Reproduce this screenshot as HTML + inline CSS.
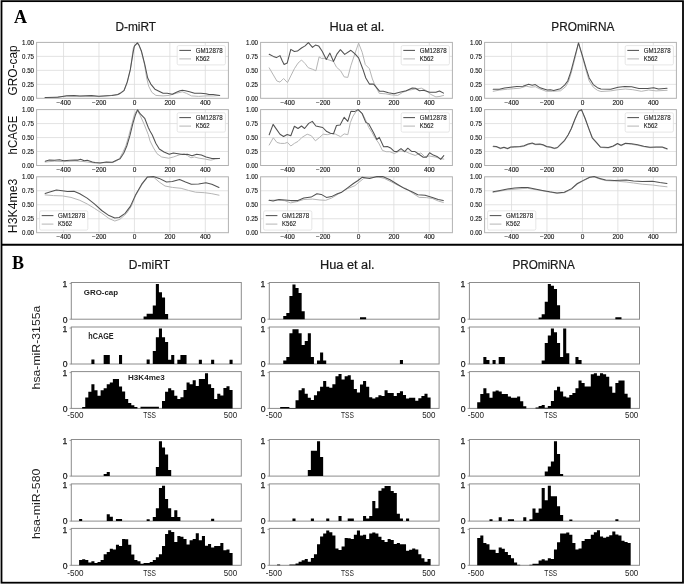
<!DOCTYPE html>
<html><head><meta charset="utf-8"><style>
html,body{margin:0;padding:0;background:#fff;width:685px;height:585px;overflow:hidden}
svg{display:block;filter:blur(0.35px)}
</style></head><body>
<svg width="685" height="585" viewBox="0 0 685 585">
<rect width="685" height="585" fill="#fff"/>
<line x1="36.60" y1="84.33" x2="228.40" y2="84.33" stroke="#dcdcdc" stroke-width="0.8"/>
<line x1="36.60" y1="70.35" x2="228.40" y2="70.35" stroke="#dcdcdc" stroke-width="0.8"/>
<line x1="36.60" y1="56.38" x2="228.40" y2="56.38" stroke="#dcdcdc" stroke-width="0.8"/>
<line x1="63.54" y1="42.40" x2="63.54" y2="98.30" stroke="#dcdcdc" stroke-width="0.8"/>
<line x1="98.98" y1="42.40" x2="98.98" y2="98.30" stroke="#dcdcdc" stroke-width="0.8"/>
<line x1="134.43" y1="42.40" x2="134.43" y2="98.30" stroke="#dcdcdc" stroke-width="0.8"/>
<line x1="169.87" y1="42.40" x2="169.87" y2="98.30" stroke="#dcdcdc" stroke-width="0.8"/>
<line x1="205.32" y1="42.40" x2="205.32" y2="98.30" stroke="#dcdcdc" stroke-width="0.8"/>
<rect x="36.60" y="42.40" width="191.80" height="55.90" fill="none" stroke="#b2b2b2" stroke-width="1"/>
<text x="34.00" y="100.60" font-size="6.8" text-anchor="end" fill="#1a1a1a" textLength="12.0" lengthAdjust="spacingAndGlyphs" font-family='"Liberation Sans", sans-serif' stroke="#1a1a1a" stroke-width="0.15">0.00</text>
<text x="34.00" y="86.62" font-size="6.8" text-anchor="end" fill="#1a1a1a" textLength="12.0" lengthAdjust="spacingAndGlyphs" font-family='"Liberation Sans", sans-serif' stroke="#1a1a1a" stroke-width="0.15">0.25</text>
<text x="34.00" y="72.65" font-size="6.8" text-anchor="end" fill="#1a1a1a" textLength="12.0" lengthAdjust="spacingAndGlyphs" font-family='"Liberation Sans", sans-serif' stroke="#1a1a1a" stroke-width="0.15">0.50</text>
<text x="34.00" y="58.67" font-size="6.8" text-anchor="end" fill="#1a1a1a" textLength="12.0" lengthAdjust="spacingAndGlyphs" font-family='"Liberation Sans", sans-serif' stroke="#1a1a1a" stroke-width="0.15">0.75</text>
<text x="34.00" y="44.70" font-size="6.8" text-anchor="end" fill="#1a1a1a" textLength="12.0" lengthAdjust="spacingAndGlyphs" font-family='"Liberation Sans", sans-serif' stroke="#1a1a1a" stroke-width="0.15">1.00</text>
<text x="63.74" y="104.80" font-size="6.8" text-anchor="middle" fill="#1a1a1a" textLength="14.4" lengthAdjust="spacingAndGlyphs" font-family='"Liberation Sans", sans-serif' stroke="#1a1a1a" stroke-width="0.15">−400</text>
<text x="99.18" y="104.80" font-size="6.8" text-anchor="middle" fill="#1a1a1a" textLength="14.4" lengthAdjust="spacingAndGlyphs" font-family='"Liberation Sans", sans-serif' stroke="#1a1a1a" stroke-width="0.15">−200</text>
<text x="134.43" y="104.80" font-size="6.8" text-anchor="middle" fill="#1a1a1a" textLength="3.6" lengthAdjust="spacingAndGlyphs" font-family='"Liberation Sans", sans-serif' stroke="#1a1a1a" stroke-width="0.15">0</text>
<text x="169.87" y="104.80" font-size="6.8" text-anchor="middle" fill="#1a1a1a" textLength="10.8" lengthAdjust="spacingAndGlyphs" font-family='"Liberation Sans", sans-serif' stroke="#1a1a1a" stroke-width="0.15">200</text>
<text x="205.32" y="104.80" font-size="6.8" text-anchor="middle" fill="#1a1a1a" textLength="10.8" lengthAdjust="spacingAndGlyphs" font-family='"Liberation Sans", sans-serif' stroke="#1a1a1a" stroke-width="0.15">400</text>
<line x1="36.60" y1="151.53" x2="228.40" y2="151.53" stroke="#dcdcdc" stroke-width="0.8"/>
<line x1="36.60" y1="137.55" x2="228.40" y2="137.55" stroke="#dcdcdc" stroke-width="0.8"/>
<line x1="36.60" y1="123.58" x2="228.40" y2="123.58" stroke="#dcdcdc" stroke-width="0.8"/>
<line x1="63.54" y1="109.60" x2="63.54" y2="165.50" stroke="#dcdcdc" stroke-width="0.8"/>
<line x1="98.98" y1="109.60" x2="98.98" y2="165.50" stroke="#dcdcdc" stroke-width="0.8"/>
<line x1="134.43" y1="109.60" x2="134.43" y2="165.50" stroke="#dcdcdc" stroke-width="0.8"/>
<line x1="169.87" y1="109.60" x2="169.87" y2="165.50" stroke="#dcdcdc" stroke-width="0.8"/>
<line x1="205.32" y1="109.60" x2="205.32" y2="165.50" stroke="#dcdcdc" stroke-width="0.8"/>
<rect x="36.60" y="109.60" width="191.80" height="55.90" fill="none" stroke="#b2b2b2" stroke-width="1"/>
<text x="34.00" y="167.80" font-size="6.8" text-anchor="end" fill="#1a1a1a" textLength="12.0" lengthAdjust="spacingAndGlyphs" font-family='"Liberation Sans", sans-serif' stroke="#1a1a1a" stroke-width="0.15">0.00</text>
<text x="34.00" y="153.83" font-size="6.8" text-anchor="end" fill="#1a1a1a" textLength="12.0" lengthAdjust="spacingAndGlyphs" font-family='"Liberation Sans", sans-serif' stroke="#1a1a1a" stroke-width="0.15">0.25</text>
<text x="34.00" y="139.85" font-size="6.8" text-anchor="end" fill="#1a1a1a" textLength="12.0" lengthAdjust="spacingAndGlyphs" font-family='"Liberation Sans", sans-serif' stroke="#1a1a1a" stroke-width="0.15">0.50</text>
<text x="34.00" y="125.88" font-size="6.8" text-anchor="end" fill="#1a1a1a" textLength="12.0" lengthAdjust="spacingAndGlyphs" font-family='"Liberation Sans", sans-serif' stroke="#1a1a1a" stroke-width="0.15">0.75</text>
<text x="34.00" y="111.90" font-size="6.8" text-anchor="end" fill="#1a1a1a" textLength="12.0" lengthAdjust="spacingAndGlyphs" font-family='"Liberation Sans", sans-serif' stroke="#1a1a1a" stroke-width="0.15">1.00</text>
<text x="63.74" y="172.00" font-size="6.8" text-anchor="middle" fill="#1a1a1a" textLength="14.4" lengthAdjust="spacingAndGlyphs" font-family='"Liberation Sans", sans-serif' stroke="#1a1a1a" stroke-width="0.15">−400</text>
<text x="99.18" y="172.00" font-size="6.8" text-anchor="middle" fill="#1a1a1a" textLength="14.4" lengthAdjust="spacingAndGlyphs" font-family='"Liberation Sans", sans-serif' stroke="#1a1a1a" stroke-width="0.15">−200</text>
<text x="134.43" y="172.00" font-size="6.8" text-anchor="middle" fill="#1a1a1a" textLength="3.6" lengthAdjust="spacingAndGlyphs" font-family='"Liberation Sans", sans-serif' stroke="#1a1a1a" stroke-width="0.15">0</text>
<text x="169.87" y="172.00" font-size="6.8" text-anchor="middle" fill="#1a1a1a" textLength="10.8" lengthAdjust="spacingAndGlyphs" font-family='"Liberation Sans", sans-serif' stroke="#1a1a1a" stroke-width="0.15">200</text>
<text x="205.32" y="172.00" font-size="6.8" text-anchor="middle" fill="#1a1a1a" textLength="10.8" lengthAdjust="spacingAndGlyphs" font-family='"Liberation Sans", sans-serif' stroke="#1a1a1a" stroke-width="0.15">400</text>
<line x1="36.60" y1="218.73" x2="228.40" y2="218.73" stroke="#dcdcdc" stroke-width="0.8"/>
<line x1="36.60" y1="204.75" x2="228.40" y2="204.75" stroke="#dcdcdc" stroke-width="0.8"/>
<line x1="36.60" y1="190.78" x2="228.40" y2="190.78" stroke="#dcdcdc" stroke-width="0.8"/>
<line x1="63.54" y1="176.80" x2="63.54" y2="232.70" stroke="#dcdcdc" stroke-width="0.8"/>
<line x1="98.98" y1="176.80" x2="98.98" y2="232.70" stroke="#dcdcdc" stroke-width="0.8"/>
<line x1="134.43" y1="176.80" x2="134.43" y2="232.70" stroke="#dcdcdc" stroke-width="0.8"/>
<line x1="169.87" y1="176.80" x2="169.87" y2="232.70" stroke="#dcdcdc" stroke-width="0.8"/>
<line x1="205.32" y1="176.80" x2="205.32" y2="232.70" stroke="#dcdcdc" stroke-width="0.8"/>
<rect x="36.60" y="176.80" width="191.80" height="55.90" fill="none" stroke="#b2b2b2" stroke-width="1"/>
<text x="34.00" y="235.00" font-size="6.8" text-anchor="end" fill="#1a1a1a" textLength="12.0" lengthAdjust="spacingAndGlyphs" font-family='"Liberation Sans", sans-serif' stroke="#1a1a1a" stroke-width="0.15">0.00</text>
<text x="34.00" y="221.03" font-size="6.8" text-anchor="end" fill="#1a1a1a" textLength="12.0" lengthAdjust="spacingAndGlyphs" font-family='"Liberation Sans", sans-serif' stroke="#1a1a1a" stroke-width="0.15">0.25</text>
<text x="34.00" y="207.05" font-size="6.8" text-anchor="end" fill="#1a1a1a" textLength="12.0" lengthAdjust="spacingAndGlyphs" font-family='"Liberation Sans", sans-serif' stroke="#1a1a1a" stroke-width="0.15">0.50</text>
<text x="34.00" y="193.08" font-size="6.8" text-anchor="end" fill="#1a1a1a" textLength="12.0" lengthAdjust="spacingAndGlyphs" font-family='"Liberation Sans", sans-serif' stroke="#1a1a1a" stroke-width="0.15">0.75</text>
<text x="34.00" y="179.10" font-size="6.8" text-anchor="end" fill="#1a1a1a" textLength="12.0" lengthAdjust="spacingAndGlyphs" font-family='"Liberation Sans", sans-serif' stroke="#1a1a1a" stroke-width="0.15">1.00</text>
<text x="63.74" y="239.20" font-size="6.8" text-anchor="middle" fill="#1a1a1a" textLength="14.4" lengthAdjust="spacingAndGlyphs" font-family='"Liberation Sans", sans-serif' stroke="#1a1a1a" stroke-width="0.15">−400</text>
<text x="99.18" y="239.20" font-size="6.8" text-anchor="middle" fill="#1a1a1a" textLength="14.4" lengthAdjust="spacingAndGlyphs" font-family='"Liberation Sans", sans-serif' stroke="#1a1a1a" stroke-width="0.15">−200</text>
<text x="134.43" y="239.20" font-size="6.8" text-anchor="middle" fill="#1a1a1a" textLength="3.6" lengthAdjust="spacingAndGlyphs" font-family='"Liberation Sans", sans-serif' stroke="#1a1a1a" stroke-width="0.15">0</text>
<text x="169.87" y="239.20" font-size="6.8" text-anchor="middle" fill="#1a1a1a" textLength="10.8" lengthAdjust="spacingAndGlyphs" font-family='"Liberation Sans", sans-serif' stroke="#1a1a1a" stroke-width="0.15">200</text>
<text x="205.32" y="239.20" font-size="6.8" text-anchor="middle" fill="#1a1a1a" textLength="10.8" lengthAdjust="spacingAndGlyphs" font-family='"Liberation Sans", sans-serif' stroke="#1a1a1a" stroke-width="0.15">400</text>
<line x1="260.60" y1="84.33" x2="452.40" y2="84.33" stroke="#dcdcdc" stroke-width="0.8"/>
<line x1="260.60" y1="70.35" x2="452.40" y2="70.35" stroke="#dcdcdc" stroke-width="0.8"/>
<line x1="260.60" y1="56.38" x2="452.40" y2="56.38" stroke="#dcdcdc" stroke-width="0.8"/>
<line x1="287.54" y1="42.40" x2="287.54" y2="98.30" stroke="#dcdcdc" stroke-width="0.8"/>
<line x1="322.98" y1="42.40" x2="322.98" y2="98.30" stroke="#dcdcdc" stroke-width="0.8"/>
<line x1="358.43" y1="42.40" x2="358.43" y2="98.30" stroke="#dcdcdc" stroke-width="0.8"/>
<line x1="393.87" y1="42.40" x2="393.87" y2="98.30" stroke="#dcdcdc" stroke-width="0.8"/>
<line x1="429.32" y1="42.40" x2="429.32" y2="98.30" stroke="#dcdcdc" stroke-width="0.8"/>
<rect x="260.60" y="42.40" width="191.80" height="55.90" fill="none" stroke="#b2b2b2" stroke-width="1"/>
<text x="258.00" y="100.60" font-size="6.8" text-anchor="end" fill="#1a1a1a" textLength="12.0" lengthAdjust="spacingAndGlyphs" font-family='"Liberation Sans", sans-serif' stroke="#1a1a1a" stroke-width="0.15">0.00</text>
<text x="258.00" y="86.62" font-size="6.8" text-anchor="end" fill="#1a1a1a" textLength="12.0" lengthAdjust="spacingAndGlyphs" font-family='"Liberation Sans", sans-serif' stroke="#1a1a1a" stroke-width="0.15">0.25</text>
<text x="258.00" y="72.65" font-size="6.8" text-anchor="end" fill="#1a1a1a" textLength="12.0" lengthAdjust="spacingAndGlyphs" font-family='"Liberation Sans", sans-serif' stroke="#1a1a1a" stroke-width="0.15">0.50</text>
<text x="258.00" y="58.67" font-size="6.8" text-anchor="end" fill="#1a1a1a" textLength="12.0" lengthAdjust="spacingAndGlyphs" font-family='"Liberation Sans", sans-serif' stroke="#1a1a1a" stroke-width="0.15">0.75</text>
<text x="258.00" y="44.70" font-size="6.8" text-anchor="end" fill="#1a1a1a" textLength="12.0" lengthAdjust="spacingAndGlyphs" font-family='"Liberation Sans", sans-serif' stroke="#1a1a1a" stroke-width="0.15">1.00</text>
<text x="287.74" y="104.80" font-size="6.8" text-anchor="middle" fill="#1a1a1a" textLength="14.4" lengthAdjust="spacingAndGlyphs" font-family='"Liberation Sans", sans-serif' stroke="#1a1a1a" stroke-width="0.15">−400</text>
<text x="323.18" y="104.80" font-size="6.8" text-anchor="middle" fill="#1a1a1a" textLength="14.4" lengthAdjust="spacingAndGlyphs" font-family='"Liberation Sans", sans-serif' stroke="#1a1a1a" stroke-width="0.15">−200</text>
<text x="358.43" y="104.80" font-size="6.8" text-anchor="middle" fill="#1a1a1a" textLength="3.6" lengthAdjust="spacingAndGlyphs" font-family='"Liberation Sans", sans-serif' stroke="#1a1a1a" stroke-width="0.15">0</text>
<text x="393.87" y="104.80" font-size="6.8" text-anchor="middle" fill="#1a1a1a" textLength="10.8" lengthAdjust="spacingAndGlyphs" font-family='"Liberation Sans", sans-serif' stroke="#1a1a1a" stroke-width="0.15">200</text>
<text x="429.32" y="104.80" font-size="6.8" text-anchor="middle" fill="#1a1a1a" textLength="10.8" lengthAdjust="spacingAndGlyphs" font-family='"Liberation Sans", sans-serif' stroke="#1a1a1a" stroke-width="0.15">400</text>
<line x1="260.60" y1="151.53" x2="452.40" y2="151.53" stroke="#dcdcdc" stroke-width="0.8"/>
<line x1="260.60" y1="137.55" x2="452.40" y2="137.55" stroke="#dcdcdc" stroke-width="0.8"/>
<line x1="260.60" y1="123.58" x2="452.40" y2="123.58" stroke="#dcdcdc" stroke-width="0.8"/>
<line x1="287.54" y1="109.60" x2="287.54" y2="165.50" stroke="#dcdcdc" stroke-width="0.8"/>
<line x1="322.98" y1="109.60" x2="322.98" y2="165.50" stroke="#dcdcdc" stroke-width="0.8"/>
<line x1="358.43" y1="109.60" x2="358.43" y2="165.50" stroke="#dcdcdc" stroke-width="0.8"/>
<line x1="393.87" y1="109.60" x2="393.87" y2="165.50" stroke="#dcdcdc" stroke-width="0.8"/>
<line x1="429.32" y1="109.60" x2="429.32" y2="165.50" stroke="#dcdcdc" stroke-width="0.8"/>
<rect x="260.60" y="109.60" width="191.80" height="55.90" fill="none" stroke="#b2b2b2" stroke-width="1"/>
<text x="258.00" y="167.80" font-size="6.8" text-anchor="end" fill="#1a1a1a" textLength="12.0" lengthAdjust="spacingAndGlyphs" font-family='"Liberation Sans", sans-serif' stroke="#1a1a1a" stroke-width="0.15">0.00</text>
<text x="258.00" y="153.83" font-size="6.8" text-anchor="end" fill="#1a1a1a" textLength="12.0" lengthAdjust="spacingAndGlyphs" font-family='"Liberation Sans", sans-serif' stroke="#1a1a1a" stroke-width="0.15">0.25</text>
<text x="258.00" y="139.85" font-size="6.8" text-anchor="end" fill="#1a1a1a" textLength="12.0" lengthAdjust="spacingAndGlyphs" font-family='"Liberation Sans", sans-serif' stroke="#1a1a1a" stroke-width="0.15">0.50</text>
<text x="258.00" y="125.88" font-size="6.8" text-anchor="end" fill="#1a1a1a" textLength="12.0" lengthAdjust="spacingAndGlyphs" font-family='"Liberation Sans", sans-serif' stroke="#1a1a1a" stroke-width="0.15">0.75</text>
<text x="258.00" y="111.90" font-size="6.8" text-anchor="end" fill="#1a1a1a" textLength="12.0" lengthAdjust="spacingAndGlyphs" font-family='"Liberation Sans", sans-serif' stroke="#1a1a1a" stroke-width="0.15">1.00</text>
<text x="287.74" y="172.00" font-size="6.8" text-anchor="middle" fill="#1a1a1a" textLength="14.4" lengthAdjust="spacingAndGlyphs" font-family='"Liberation Sans", sans-serif' stroke="#1a1a1a" stroke-width="0.15">−400</text>
<text x="323.18" y="172.00" font-size="6.8" text-anchor="middle" fill="#1a1a1a" textLength="14.4" lengthAdjust="spacingAndGlyphs" font-family='"Liberation Sans", sans-serif' stroke="#1a1a1a" stroke-width="0.15">−200</text>
<text x="358.43" y="172.00" font-size="6.8" text-anchor="middle" fill="#1a1a1a" textLength="3.6" lengthAdjust="spacingAndGlyphs" font-family='"Liberation Sans", sans-serif' stroke="#1a1a1a" stroke-width="0.15">0</text>
<text x="393.87" y="172.00" font-size="6.8" text-anchor="middle" fill="#1a1a1a" textLength="10.8" lengthAdjust="spacingAndGlyphs" font-family='"Liberation Sans", sans-serif' stroke="#1a1a1a" stroke-width="0.15">200</text>
<text x="429.32" y="172.00" font-size="6.8" text-anchor="middle" fill="#1a1a1a" textLength="10.8" lengthAdjust="spacingAndGlyphs" font-family='"Liberation Sans", sans-serif' stroke="#1a1a1a" stroke-width="0.15">400</text>
<line x1="260.60" y1="218.73" x2="452.40" y2="218.73" stroke="#dcdcdc" stroke-width="0.8"/>
<line x1="260.60" y1="204.75" x2="452.40" y2="204.75" stroke="#dcdcdc" stroke-width="0.8"/>
<line x1="260.60" y1="190.78" x2="452.40" y2="190.78" stroke="#dcdcdc" stroke-width="0.8"/>
<line x1="287.54" y1="176.80" x2="287.54" y2="232.70" stroke="#dcdcdc" stroke-width="0.8"/>
<line x1="322.98" y1="176.80" x2="322.98" y2="232.70" stroke="#dcdcdc" stroke-width="0.8"/>
<line x1="358.43" y1="176.80" x2="358.43" y2="232.70" stroke="#dcdcdc" stroke-width="0.8"/>
<line x1="393.87" y1="176.80" x2="393.87" y2="232.70" stroke="#dcdcdc" stroke-width="0.8"/>
<line x1="429.32" y1="176.80" x2="429.32" y2="232.70" stroke="#dcdcdc" stroke-width="0.8"/>
<rect x="260.60" y="176.80" width="191.80" height="55.90" fill="none" stroke="#b2b2b2" stroke-width="1"/>
<text x="258.00" y="235.00" font-size="6.8" text-anchor="end" fill="#1a1a1a" textLength="12.0" lengthAdjust="spacingAndGlyphs" font-family='"Liberation Sans", sans-serif' stroke="#1a1a1a" stroke-width="0.15">0.00</text>
<text x="258.00" y="221.03" font-size="6.8" text-anchor="end" fill="#1a1a1a" textLength="12.0" lengthAdjust="spacingAndGlyphs" font-family='"Liberation Sans", sans-serif' stroke="#1a1a1a" stroke-width="0.15">0.25</text>
<text x="258.00" y="207.05" font-size="6.8" text-anchor="end" fill="#1a1a1a" textLength="12.0" lengthAdjust="spacingAndGlyphs" font-family='"Liberation Sans", sans-serif' stroke="#1a1a1a" stroke-width="0.15">0.50</text>
<text x="258.00" y="193.08" font-size="6.8" text-anchor="end" fill="#1a1a1a" textLength="12.0" lengthAdjust="spacingAndGlyphs" font-family='"Liberation Sans", sans-serif' stroke="#1a1a1a" stroke-width="0.15">0.75</text>
<text x="258.00" y="179.10" font-size="6.8" text-anchor="end" fill="#1a1a1a" textLength="12.0" lengthAdjust="spacingAndGlyphs" font-family='"Liberation Sans", sans-serif' stroke="#1a1a1a" stroke-width="0.15">1.00</text>
<text x="287.74" y="239.20" font-size="6.8" text-anchor="middle" fill="#1a1a1a" textLength="14.4" lengthAdjust="spacingAndGlyphs" font-family='"Liberation Sans", sans-serif' stroke="#1a1a1a" stroke-width="0.15">−400</text>
<text x="323.18" y="239.20" font-size="6.8" text-anchor="middle" fill="#1a1a1a" textLength="14.4" lengthAdjust="spacingAndGlyphs" font-family='"Liberation Sans", sans-serif' stroke="#1a1a1a" stroke-width="0.15">−200</text>
<text x="358.43" y="239.20" font-size="6.8" text-anchor="middle" fill="#1a1a1a" textLength="3.6" lengthAdjust="spacingAndGlyphs" font-family='"Liberation Sans", sans-serif' stroke="#1a1a1a" stroke-width="0.15">0</text>
<text x="393.87" y="239.20" font-size="6.8" text-anchor="middle" fill="#1a1a1a" textLength="10.8" lengthAdjust="spacingAndGlyphs" font-family='"Liberation Sans", sans-serif' stroke="#1a1a1a" stroke-width="0.15">200</text>
<text x="429.32" y="239.20" font-size="6.8" text-anchor="middle" fill="#1a1a1a" textLength="10.8" lengthAdjust="spacingAndGlyphs" font-family='"Liberation Sans", sans-serif' stroke="#1a1a1a" stroke-width="0.15">400</text>
<line x1="484.60" y1="84.33" x2="676.40" y2="84.33" stroke="#dcdcdc" stroke-width="0.8"/>
<line x1="484.60" y1="70.35" x2="676.40" y2="70.35" stroke="#dcdcdc" stroke-width="0.8"/>
<line x1="484.60" y1="56.38" x2="676.40" y2="56.38" stroke="#dcdcdc" stroke-width="0.8"/>
<line x1="511.54" y1="42.40" x2="511.54" y2="98.30" stroke="#dcdcdc" stroke-width="0.8"/>
<line x1="546.98" y1="42.40" x2="546.98" y2="98.30" stroke="#dcdcdc" stroke-width="0.8"/>
<line x1="582.43" y1="42.40" x2="582.43" y2="98.30" stroke="#dcdcdc" stroke-width="0.8"/>
<line x1="617.87" y1="42.40" x2="617.87" y2="98.30" stroke="#dcdcdc" stroke-width="0.8"/>
<line x1="653.32" y1="42.40" x2="653.32" y2="98.30" stroke="#dcdcdc" stroke-width="0.8"/>
<rect x="484.60" y="42.40" width="191.80" height="55.90" fill="none" stroke="#b2b2b2" stroke-width="1"/>
<text x="482.00" y="100.60" font-size="6.8" text-anchor="end" fill="#1a1a1a" textLength="12.0" lengthAdjust="spacingAndGlyphs" font-family='"Liberation Sans", sans-serif' stroke="#1a1a1a" stroke-width="0.15">0.00</text>
<text x="482.00" y="86.62" font-size="6.8" text-anchor="end" fill="#1a1a1a" textLength="12.0" lengthAdjust="spacingAndGlyphs" font-family='"Liberation Sans", sans-serif' stroke="#1a1a1a" stroke-width="0.15">0.25</text>
<text x="482.00" y="72.65" font-size="6.8" text-anchor="end" fill="#1a1a1a" textLength="12.0" lengthAdjust="spacingAndGlyphs" font-family='"Liberation Sans", sans-serif' stroke="#1a1a1a" stroke-width="0.15">0.50</text>
<text x="482.00" y="58.67" font-size="6.8" text-anchor="end" fill="#1a1a1a" textLength="12.0" lengthAdjust="spacingAndGlyphs" font-family='"Liberation Sans", sans-serif' stroke="#1a1a1a" stroke-width="0.15">0.75</text>
<text x="482.00" y="44.70" font-size="6.8" text-anchor="end" fill="#1a1a1a" textLength="12.0" lengthAdjust="spacingAndGlyphs" font-family='"Liberation Sans", sans-serif' stroke="#1a1a1a" stroke-width="0.15">1.00</text>
<text x="511.74" y="104.80" font-size="6.8" text-anchor="middle" fill="#1a1a1a" textLength="14.4" lengthAdjust="spacingAndGlyphs" font-family='"Liberation Sans", sans-serif' stroke="#1a1a1a" stroke-width="0.15">−400</text>
<text x="547.18" y="104.80" font-size="6.8" text-anchor="middle" fill="#1a1a1a" textLength="14.4" lengthAdjust="spacingAndGlyphs" font-family='"Liberation Sans", sans-serif' stroke="#1a1a1a" stroke-width="0.15">−200</text>
<text x="582.43" y="104.80" font-size="6.8" text-anchor="middle" fill="#1a1a1a" textLength="3.6" lengthAdjust="spacingAndGlyphs" font-family='"Liberation Sans", sans-serif' stroke="#1a1a1a" stroke-width="0.15">0</text>
<text x="617.87" y="104.80" font-size="6.8" text-anchor="middle" fill="#1a1a1a" textLength="10.8" lengthAdjust="spacingAndGlyphs" font-family='"Liberation Sans", sans-serif' stroke="#1a1a1a" stroke-width="0.15">200</text>
<text x="653.32" y="104.80" font-size="6.8" text-anchor="middle" fill="#1a1a1a" textLength="10.8" lengthAdjust="spacingAndGlyphs" font-family='"Liberation Sans", sans-serif' stroke="#1a1a1a" stroke-width="0.15">400</text>
<line x1="484.60" y1="151.53" x2="676.40" y2="151.53" stroke="#dcdcdc" stroke-width="0.8"/>
<line x1="484.60" y1="137.55" x2="676.40" y2="137.55" stroke="#dcdcdc" stroke-width="0.8"/>
<line x1="484.60" y1="123.58" x2="676.40" y2="123.58" stroke="#dcdcdc" stroke-width="0.8"/>
<line x1="511.54" y1="109.60" x2="511.54" y2="165.50" stroke="#dcdcdc" stroke-width="0.8"/>
<line x1="546.98" y1="109.60" x2="546.98" y2="165.50" stroke="#dcdcdc" stroke-width="0.8"/>
<line x1="582.43" y1="109.60" x2="582.43" y2="165.50" stroke="#dcdcdc" stroke-width="0.8"/>
<line x1="617.87" y1="109.60" x2="617.87" y2="165.50" stroke="#dcdcdc" stroke-width="0.8"/>
<line x1="653.32" y1="109.60" x2="653.32" y2="165.50" stroke="#dcdcdc" stroke-width="0.8"/>
<rect x="484.60" y="109.60" width="191.80" height="55.90" fill="none" stroke="#b2b2b2" stroke-width="1"/>
<text x="482.00" y="167.80" font-size="6.8" text-anchor="end" fill="#1a1a1a" textLength="12.0" lengthAdjust="spacingAndGlyphs" font-family='"Liberation Sans", sans-serif' stroke="#1a1a1a" stroke-width="0.15">0.00</text>
<text x="482.00" y="153.83" font-size="6.8" text-anchor="end" fill="#1a1a1a" textLength="12.0" lengthAdjust="spacingAndGlyphs" font-family='"Liberation Sans", sans-serif' stroke="#1a1a1a" stroke-width="0.15">0.25</text>
<text x="482.00" y="139.85" font-size="6.8" text-anchor="end" fill="#1a1a1a" textLength="12.0" lengthAdjust="spacingAndGlyphs" font-family='"Liberation Sans", sans-serif' stroke="#1a1a1a" stroke-width="0.15">0.50</text>
<text x="482.00" y="125.88" font-size="6.8" text-anchor="end" fill="#1a1a1a" textLength="12.0" lengthAdjust="spacingAndGlyphs" font-family='"Liberation Sans", sans-serif' stroke="#1a1a1a" stroke-width="0.15">0.75</text>
<text x="482.00" y="111.90" font-size="6.8" text-anchor="end" fill="#1a1a1a" textLength="12.0" lengthAdjust="spacingAndGlyphs" font-family='"Liberation Sans", sans-serif' stroke="#1a1a1a" stroke-width="0.15">1.00</text>
<text x="511.74" y="172.00" font-size="6.8" text-anchor="middle" fill="#1a1a1a" textLength="14.4" lengthAdjust="spacingAndGlyphs" font-family='"Liberation Sans", sans-serif' stroke="#1a1a1a" stroke-width="0.15">−400</text>
<text x="547.18" y="172.00" font-size="6.8" text-anchor="middle" fill="#1a1a1a" textLength="14.4" lengthAdjust="spacingAndGlyphs" font-family='"Liberation Sans", sans-serif' stroke="#1a1a1a" stroke-width="0.15">−200</text>
<text x="582.43" y="172.00" font-size="6.8" text-anchor="middle" fill="#1a1a1a" textLength="3.6" lengthAdjust="spacingAndGlyphs" font-family='"Liberation Sans", sans-serif' stroke="#1a1a1a" stroke-width="0.15">0</text>
<text x="617.87" y="172.00" font-size="6.8" text-anchor="middle" fill="#1a1a1a" textLength="10.8" lengthAdjust="spacingAndGlyphs" font-family='"Liberation Sans", sans-serif' stroke="#1a1a1a" stroke-width="0.15">200</text>
<text x="653.32" y="172.00" font-size="6.8" text-anchor="middle" fill="#1a1a1a" textLength="10.8" lengthAdjust="spacingAndGlyphs" font-family='"Liberation Sans", sans-serif' stroke="#1a1a1a" stroke-width="0.15">400</text>
<line x1="484.60" y1="218.73" x2="676.40" y2="218.73" stroke="#dcdcdc" stroke-width="0.8"/>
<line x1="484.60" y1="204.75" x2="676.40" y2="204.75" stroke="#dcdcdc" stroke-width="0.8"/>
<line x1="484.60" y1="190.78" x2="676.40" y2="190.78" stroke="#dcdcdc" stroke-width="0.8"/>
<line x1="511.54" y1="176.80" x2="511.54" y2="232.70" stroke="#dcdcdc" stroke-width="0.8"/>
<line x1="546.98" y1="176.80" x2="546.98" y2="232.70" stroke="#dcdcdc" stroke-width="0.8"/>
<line x1="582.43" y1="176.80" x2="582.43" y2="232.70" stroke="#dcdcdc" stroke-width="0.8"/>
<line x1="617.87" y1="176.80" x2="617.87" y2="232.70" stroke="#dcdcdc" stroke-width="0.8"/>
<line x1="653.32" y1="176.80" x2="653.32" y2="232.70" stroke="#dcdcdc" stroke-width="0.8"/>
<rect x="484.60" y="176.80" width="191.80" height="55.90" fill="none" stroke="#b2b2b2" stroke-width="1"/>
<text x="482.00" y="235.00" font-size="6.8" text-anchor="end" fill="#1a1a1a" textLength="12.0" lengthAdjust="spacingAndGlyphs" font-family='"Liberation Sans", sans-serif' stroke="#1a1a1a" stroke-width="0.15">0.00</text>
<text x="482.00" y="221.03" font-size="6.8" text-anchor="end" fill="#1a1a1a" textLength="12.0" lengthAdjust="spacingAndGlyphs" font-family='"Liberation Sans", sans-serif' stroke="#1a1a1a" stroke-width="0.15">0.25</text>
<text x="482.00" y="207.05" font-size="6.8" text-anchor="end" fill="#1a1a1a" textLength="12.0" lengthAdjust="spacingAndGlyphs" font-family='"Liberation Sans", sans-serif' stroke="#1a1a1a" stroke-width="0.15">0.50</text>
<text x="482.00" y="193.08" font-size="6.8" text-anchor="end" fill="#1a1a1a" textLength="12.0" lengthAdjust="spacingAndGlyphs" font-family='"Liberation Sans", sans-serif' stroke="#1a1a1a" stroke-width="0.15">0.75</text>
<text x="482.00" y="179.10" font-size="6.8" text-anchor="end" fill="#1a1a1a" textLength="12.0" lengthAdjust="spacingAndGlyphs" font-family='"Liberation Sans", sans-serif' stroke="#1a1a1a" stroke-width="0.15">1.00</text>
<text x="511.74" y="239.20" font-size="6.8" text-anchor="middle" fill="#1a1a1a" textLength="14.4" lengthAdjust="spacingAndGlyphs" font-family='"Liberation Sans", sans-serif' stroke="#1a1a1a" stroke-width="0.15">−400</text>
<text x="547.18" y="239.20" font-size="6.8" text-anchor="middle" fill="#1a1a1a" textLength="14.4" lengthAdjust="spacingAndGlyphs" font-family='"Liberation Sans", sans-serif' stroke="#1a1a1a" stroke-width="0.15">−200</text>
<text x="582.43" y="239.20" font-size="6.8" text-anchor="middle" fill="#1a1a1a" textLength="3.6" lengthAdjust="spacingAndGlyphs" font-family='"Liberation Sans", sans-serif' stroke="#1a1a1a" stroke-width="0.15">0</text>
<text x="617.87" y="239.20" font-size="6.8" text-anchor="middle" fill="#1a1a1a" textLength="10.8" lengthAdjust="spacingAndGlyphs" font-family='"Liberation Sans", sans-serif' stroke="#1a1a1a" stroke-width="0.15">200</text>
<text x="653.32" y="239.20" font-size="6.8" text-anchor="middle" fill="#1a1a1a" textLength="10.8" lengthAdjust="spacingAndGlyphs" font-family='"Liberation Sans", sans-serif' stroke="#1a1a1a" stroke-width="0.15">400</text>
<polyline points="45.1,97.6 66.7,96.2 79.8,96.3 98.8,96.5 117.8,94.8 120.0,93.8 124.1,90.8 127.2,82.5 130.3,70.0 133.3,48.2 135.0,45.0 137.4,43.2 139.0,45.5 141.5,52.0 144.6,65.0 146.7,78.0 148.7,86.2 151.8,92.3 155.9,95.4 163.1,95.9 169.2,95.4 176.2,93.3 182.3,91.8 186.4,93.3 191.5,95.9 198.7,96.4 205.9,95.9 213.1,95.9 219.7,95.4" fill="none" stroke="#b6b6b6" stroke-width="1.0" stroke-linejoin="round" stroke-linecap="round"/>
<polyline points="45.1,97.4 57.9,97.2 66.7,95.8 74.0,95.6 79.8,96.0 91.5,95.5 98.8,96.3 111.9,95.6 117.8,94.5 120.0,93.3 124.1,90.3 127.2,82.1 130.3,69.7 133.3,51.3 134.4,46.2 137.4,42.9 139.0,45.1 141.5,51.3 144.6,63.6 147.7,78.0 150.8,84.1 154.9,89.2 159.0,91.3 163.1,93.3 167.2,93.3 172.3,94.2 176.4,92.3 180.0,90.8 182.3,90.3 185.4,90.8 189.5,91.8 194.6,93.3 200.8,93.3 205.9,93.8 209.0,94.6 213.1,94.4 219.7,95.4" fill="none" stroke="#525252" stroke-width="1.05" stroke-linejoin="round" stroke-linecap="round"/>
<polyline points="269.2,67.9 273.3,74.9 276.9,81.0 280.0,82.1 283.6,78.5 287.5,82.6 290.8,75.9 294.4,68.7 298.0,63.1 301.5,60.0 305.1,63.6 308.2,67.7 312.3,69.2 315.9,70.8 319.1,56.9 321.7,58.5 324.2,58.3 333.5,61.5 336.5,67.2 340.6,70.8 344.2,76.9 347.8,77.4 350.9,65.6 355.0,53.3 358.6,43.1 362.2,52.3 365.3,64.6 369.4,68.7 372.4,79.0 374.1,83.1 379.2,93.3 385.4,93.8 391.5,94.9 397.7,95.4 402.8,92.3 408.2,90.3 415.4,89.0 421.5,88.2 425.6,90.3 430.8,94.4 435.9,96.9 440.0,96.4 443.6,95.4" fill="none" stroke="#b6b6b6" stroke-width="1.0" stroke-linejoin="round" stroke-linecap="round"/>
<polyline points="269.2,54.2 273.3,56.4 276.4,57.6 280.0,55.6 282.1,60.5 284.1,64.4 287.2,63.1 290.8,49.4 294.4,51.5 297.4,51.1 301.5,48.0 305.1,45.9 308.4,42.6 312.5,47.4 315.4,45.1 318.6,45.9 322.2,51.3 326.3,59.5 329.9,53.1 333.5,61.5 337.1,53.8 340.4,49.7 344.7,54.4 350.9,50.3 355.0,53.8 358.6,57.9 362.7,68.7 365.8,78.0 369.4,84.1 373.6,84.1 379.7,91.3 383.3,91.3 388.5,92.8 394.1,93.8 399.7,92.3 406.2,90.8 412.3,88.0 415.4,88.2 419.5,90.8 423.6,90.3 429.7,92.3 435.9,92.3 439.5,91.0 443.6,93.1" fill="none" stroke="#525252" stroke-width="1.05" stroke-linejoin="round" stroke-linecap="round"/>
<polyline points="493.2,91.3 499.4,90.1 507.6,89.2 513.7,88.7 519.9,88.2 526.1,86.2 531.2,87.2 535.3,86.7 539.4,88.7 546.2,91.3 552.3,91.3 560.5,90.8 565.6,86.7 568.7,81.0 571.8,70.8 575.4,56.4 578.5,43.1 582.0,55.4 586.2,70.8 589.2,81.0 593.3,87.2 597.4,90.3 600.9,91.5 610.7,90.9 618.1,89.7 625.4,89.0 632.8,89.7 641.4,91.3 648.7,90.0 656.1,90.9 667.1,90.3" fill="none" stroke="#b6b6b6" stroke-width="1.0" stroke-linejoin="round" stroke-linecap="round"/>
<polyline points="493.2,89.2 499.4,89.2 504.5,88.0 510.7,87.2 516.8,86.4 523.0,86.2 528.6,84.3 532.2,85.3 535.3,84.6 539.4,87.4 543.1,88.7 547.2,90.1 550.3,89.7 553.8,90.5 557.4,89.4 560.5,88.7 564.6,85.1 567.7,81.0 570.8,71.8 574.9,56.4 578.5,42.9 582.0,54.4 586.2,68.7 589.2,77.9 593.3,84.6 597.4,87.7 600.9,89.0 610.7,89.3 618.1,87.2 624.8,86.4 631.6,86.8 638.9,88.4 647.5,88.4 653.6,87.8 658.5,89.0 667.1,88.2" fill="none" stroke="#525252" stroke-width="1.05" stroke-linejoin="round" stroke-linecap="round"/>
<polyline points="45.2,162.0 54.5,161.2 63.7,161.6 75.0,161.0 84.2,161.6 95.0,163.0 106.3,162.6 112.4,162.6 116.5,160.8 119.5,158.5 122.7,152.6 125.8,146.0 128.8,135.7 131.9,123.9 134.5,114.2 137.1,110.1 140.1,115.2 144.2,124.4 148.3,134.7 150.0,140.9 153.5,147.9 157.0,153.7 161.7,157.0 168.7,158.2 173.4,157.0 179.2,154.9 183.9,153.7 187.4,155.5 190.9,157.8 194.4,157.0 199.1,158.2 204.9,159.0 210.7,160.2 215.4,159.0 219.5,158.4" fill="none" stroke="#b6b6b6" stroke-width="1.0" stroke-linejoin="round" stroke-linecap="round"/>
<polyline points="45.2,161.2 49.3,160.1 54.5,160.3 59.6,159.8 63.7,160.8 69.8,160.3 75.0,160.1 78.1,160.1 80.6,159.3 84.2,160.8 87.3,160.3 92.4,161.9 95.0,162.4 100.1,162.9 106.3,161.9 112.4,162.2 116.5,160.3 120.1,158.8 123.7,153.2 126.8,146.0 129.9,135.7 132.9,123.4 135.5,114.7 137.6,109.9 140.1,113.7 144.7,118.3 148.3,127.5 150.0,130.9 152.3,135.0 155.8,143.2 159.3,149.0 164.0,152.0 169.3,154.3 173.4,153.1 178.0,153.7 182.7,154.6 187.4,154.3 192.0,155.8 196.7,154.3 201.4,155.1 206.1,157.0 211.9,158.4 219.5,158.4" fill="none" stroke="#525252" stroke-width="1.05" stroke-linejoin="round" stroke-linecap="round"/>
<polyline points="269.2,145.0 273.3,137.8 276.9,142.4 280.5,143.4 284.6,143.4 287.5,142.4 290.8,146.0 294.4,143.4 298.0,141.4 302.1,137.3 307.2,134.2 311.3,135.7 315.4,140.8 319.1,137.8 323.2,134.2 327.3,134.7 331.4,133.5 335.5,134.2 340.6,136.7 344.2,133.9 347.8,134.7 350.4,122.4 353.0,116.2 356.0,111.6 358.6,110.1 362.2,113.2 365.3,119.3 368.8,127.5 372.0,132.5 375.0,138.0 378.7,143.0 382.4,150.4 386.1,151.7 389.9,151.7 394.2,153.5 399.8,151.0 406.0,151.7 409.7,153.5 415.3,155.4 420.9,152.9 424.6,156.6 429.6,156.0 435.8,157.2 440.7,158.5 443.8,159.1" fill="none" stroke="#b6b6b6" stroke-width="1.0" stroke-linejoin="round" stroke-linecap="round"/>
<polyline points="269.2,134.7 273.1,124.4 276.4,129.1 280.0,134.2 283.6,136.5 287.2,134.5 290.8,135.7 294.4,126.3 298.0,128.5 301.5,126.0 304.6,128.5 308.7,123.4 312.3,121.4 315.9,126.0 318.1,126.5 322.7,127.5 326.8,131.6 330.4,133.2 333.5,133.7 336.5,125.5 340.1,125.0 344.2,117.3 347.8,121.4 350.9,111.3 354.5,111.6 358.1,109.6 362.2,113.7 365.8,122.4 368.8,123.9 373.7,133.1 376.8,139.5 379.3,137.4 383.6,146.7 387.4,146.5 390.5,147.9 394.2,151.4 397.3,151.4 401.0,148.6 404.7,151.7 407.8,148.2 411.6,151.4 414.7,151.4 419.6,154.8 423.3,157.2 426.5,157.2 429.6,152.7 433.3,155.1 437.0,156.4 440.7,159.4 443.8,155.6" fill="none" stroke="#525252" stroke-width="1.05" stroke-linejoin="round" stroke-linecap="round"/>
<polyline points="493.2,146.7 496.3,147.0 500.4,148.7 504.0,147.7 507.6,149.0 510.7,147.5 514.8,147.3 519.9,147.0 524.0,146.3 528.1,144.6 532.2,143.6 535.3,144.7 539.9,144.6 543.1,145.2 546.7,147.0 550.3,147.5 554.4,148.7 557.4,148.0 560.5,144.9 564.6,140.8 568.2,135.2 571.3,129.0 574.9,119.8 578.5,111.6 581.5,110.1 585.1,118.8 589.2,130.1 592.3,138.3 596.4,142.9 600.3,147.4 608.3,148.0 613.2,146.5 617.5,144.0 621.1,145.8 625.4,143.7 631.6,144.3 637.7,145.3 643.8,146.7 650.0,147.7 656.1,147.4 662.2,147.4 667.1,149.2" fill="none" stroke="#b6b6b6" stroke-width="1.0" stroke-linejoin="round" stroke-linecap="round"/>
<polyline points="493.2,146.2 496.3,146.5 500.4,148.2 504.0,147.2 507.6,148.5 510.7,147.0 514.8,146.8 519.9,146.5 524.0,145.8 528.1,144.1 532.2,143.1 535.3,144.2 539.9,144.1 543.1,144.7 546.7,146.5 550.3,147.0 554.4,148.2 557.4,147.5 560.5,144.4 564.6,140.3 568.2,134.7 571.3,128.5 574.9,119.3 578.5,111.1 581.5,109.6 585.1,118.3 589.2,129.6 592.3,137.8 596.4,142.4 600.3,146.9 608.3,147.5 613.2,146.0 617.5,143.5 621.1,145.3 625.4,143.2 631.6,143.8 637.7,144.8 643.8,146.2 650.0,147.2 656.1,146.9 662.2,146.9 667.1,148.7" fill="none" stroke="#525252" stroke-width="1.05" stroke-linejoin="round" stroke-linecap="round"/>
<polyline points="45.1,194.9 53.5,195.6 62.3,195.9 71.0,197.4 79.8,200.3 87.1,203.9 94.4,208.3 101.7,213.1 109.0,218.5 114.8,221.0 119.9,219.3 126.5,213.4 131.2,206.5 135.8,195.2 141.7,185.0 147.5,177.2 154.1,177.6 159.2,182.0 165.0,186.0 172.3,187.4 181.1,188.3 188.4,190.4 195.7,192.2 204.5,192.7 211.8,193.7 219.0,195.2" fill="none" stroke="#b6b6b6" stroke-width="1.0" stroke-linejoin="round" stroke-linecap="round"/>
<polyline points="45.1,193.4 50.6,191.8 56.4,190.1 62.3,190.8 67.4,191.5 74.0,191.2 79.8,193.7 87.1,198.1 94.4,203.9 101.7,210.5 109.0,215.6 114.8,218.1 119.2,217.5 125.1,213.4 130.5,206.1 135.8,194.4 141.7,184.2 147.5,176.9 153.4,176.6 159.2,178.4 166.5,182.0 172.3,181.6 179.6,179.5 185.5,182.0 191.3,184.2 198.6,183.9 205.9,182.8 211.8,184.2 219.0,187.4" fill="none" stroke="#525252" stroke-width="1.05" stroke-linejoin="round" stroke-linecap="round"/>
<polyline points="269.1,200.3 277.5,200.0 284.8,200.7 290.7,202.9 296.5,201.7 303.8,199.5 312.6,199.1 319.9,200.0 325.7,200.3 331.5,198.1 338.8,193.7 347.6,188.6 354.9,185.7 358.0,183.0 363.8,178.4 371.1,177.6 378.4,176.9 384.2,178.4 391.5,182.0 398.8,185.7 406.1,188.6 413.4,193.7 419.2,197.4 426.5,197.6 432.4,198.5 438.2,201.0 443.3,202.5" fill="none" stroke="#b6b6b6" stroke-width="1.0" stroke-linejoin="round" stroke-linecap="round"/>
<polyline points="269.1,200.3 273.1,201.0 279.0,199.5 284.8,200.0 290.7,200.6 298.0,200.6 303.8,198.1 311.1,197.1 316.9,193.7 321.3,194.4 326.4,197.4 331.5,196.6 337.4,193.7 341.8,192.2 347.6,187.9 353.4,183.5 358.0,180.5 362.3,177.2 369.6,178.4 376.9,176.6 382.7,176.6 390.0,179.8 397.3,184.2 404.6,188.6 411.9,191.8 417.8,194.7 425.1,195.2 432.4,197.4 438.2,199.5 443.3,200.6" fill="none" stroke="#525252" stroke-width="1.05" stroke-linejoin="round" stroke-linecap="round"/>
<polyline points="493.1,192.3 507.4,189.8 522.0,188.6 527.8,188.3 542.4,190.8 557.0,193.3 564.3,192.7 571.6,189.3 577.4,184.0 583.8,180.6 589.7,177.5 594.1,176.9 599.9,179.1 605.7,180.6 614.5,181.0 626.2,182.0 633.5,183.0 642.2,184.2 652.5,185.0 659.8,186.0 667.0,186.8" fill="none" stroke="#b6b6b6" stroke-width="1.0" stroke-linejoin="round" stroke-linecap="round"/>
<polyline points="493.1,191.8 500.1,190.4 507.4,188.9 514.7,187.9 522.0,187.4 527.8,187.4 535.1,188.9 542.4,190.4 549.7,191.8 557.0,193.0 564.3,192.2 571.6,188.6 577.4,183.5 583.8,180.1 589.7,177.2 594.1,176.6 599.9,178.4 605.7,180.1 614.5,180.6 626.2,180.1 633.5,181.0 642.2,181.6 652.5,181.3 659.8,182.5 667.0,183.5" fill="none" stroke="#525252" stroke-width="1.05" stroke-linejoin="round" stroke-linecap="round"/>
<rect x="177.20" y="45.60" width="48.2" height="19.3" rx="1.5" fill="#fff" fill-opacity="0.85" stroke="#e0e0e0" stroke-width="0.8"/>
<line x1="179.30" y1="50.40" x2="191.00" y2="50.40" stroke="#525252" stroke-width="1.05"/>
<line x1="179.30" y1="58.90" x2="191.00" y2="58.90" stroke="#b6b6b6" stroke-width="1.0"/>
<text x="195.70" y="52.70" font-size="6.4" text-anchor="start" fill="#222" textLength="27.0" lengthAdjust="spacingAndGlyphs" font-family='"Liberation Sans", sans-serif' stroke="#222" stroke-width="0.12">GM12878</text>
<text x="195.70" y="61.20" font-size="6.4" text-anchor="start" fill="#222" textLength="14.0" lengthAdjust="spacingAndGlyphs" font-family='"Liberation Sans", sans-serif' stroke="#222" stroke-width="0.12">K562</text>
<rect x="177.20" y="112.80" width="48.2" height="19.3" rx="1.5" fill="#fff" fill-opacity="0.85" stroke="#e0e0e0" stroke-width="0.8"/>
<line x1="179.30" y1="117.60" x2="191.00" y2="117.60" stroke="#525252" stroke-width="1.05"/>
<line x1="179.30" y1="126.10" x2="191.00" y2="126.10" stroke="#b6b6b6" stroke-width="1.0"/>
<text x="195.70" y="119.90" font-size="6.4" text-anchor="start" fill="#222" textLength="27.0" lengthAdjust="spacingAndGlyphs" font-family='"Liberation Sans", sans-serif' stroke="#222" stroke-width="0.12">GM12878</text>
<text x="195.70" y="128.40" font-size="6.4" text-anchor="start" fill="#222" textLength="14.0" lengthAdjust="spacingAndGlyphs" font-family='"Liberation Sans", sans-serif' stroke="#222" stroke-width="0.12">K562</text>
<rect x="39.60" y="210.80" width="48.2" height="19.3" rx="1.5" fill="#fff" fill-opacity="0.85" stroke="#e0e0e0" stroke-width="0.8"/>
<line x1="41.70" y1="215.60" x2="53.40" y2="215.60" stroke="#525252" stroke-width="1.05"/>
<line x1="41.70" y1="224.10" x2="53.40" y2="224.10" stroke="#b6b6b6" stroke-width="1.0"/>
<text x="58.10" y="217.90" font-size="6.4" text-anchor="start" fill="#222" textLength="27.0" lengthAdjust="spacingAndGlyphs" font-family='"Liberation Sans", sans-serif' stroke="#222" stroke-width="0.12">GM12878</text>
<text x="58.10" y="226.40" font-size="6.4" text-anchor="start" fill="#222" textLength="14.0" lengthAdjust="spacingAndGlyphs" font-family='"Liberation Sans", sans-serif' stroke="#222" stroke-width="0.12">K562</text>
<rect x="401.20" y="45.60" width="48.2" height="19.3" rx="1.5" fill="#fff" fill-opacity="0.85" stroke="#e0e0e0" stroke-width="0.8"/>
<line x1="403.30" y1="50.40" x2="415.00" y2="50.40" stroke="#525252" stroke-width="1.05"/>
<line x1="403.30" y1="58.90" x2="415.00" y2="58.90" stroke="#b6b6b6" stroke-width="1.0"/>
<text x="419.70" y="52.70" font-size="6.4" text-anchor="start" fill="#222" textLength="27.0" lengthAdjust="spacingAndGlyphs" font-family='"Liberation Sans", sans-serif' stroke="#222" stroke-width="0.12">GM12878</text>
<text x="419.70" y="61.20" font-size="6.4" text-anchor="start" fill="#222" textLength="14.0" lengthAdjust="spacingAndGlyphs" font-family='"Liberation Sans", sans-serif' stroke="#222" stroke-width="0.12">K562</text>
<rect x="401.20" y="112.80" width="48.2" height="19.3" rx="1.5" fill="#fff" fill-opacity="0.85" stroke="#e0e0e0" stroke-width="0.8"/>
<line x1="403.30" y1="117.60" x2="415.00" y2="117.60" stroke="#525252" stroke-width="1.05"/>
<line x1="403.30" y1="126.10" x2="415.00" y2="126.10" stroke="#b6b6b6" stroke-width="1.0"/>
<text x="419.70" y="119.90" font-size="6.4" text-anchor="start" fill="#222" textLength="27.0" lengthAdjust="spacingAndGlyphs" font-family='"Liberation Sans", sans-serif' stroke="#222" stroke-width="0.12">GM12878</text>
<text x="419.70" y="128.40" font-size="6.4" text-anchor="start" fill="#222" textLength="14.0" lengthAdjust="spacingAndGlyphs" font-family='"Liberation Sans", sans-serif' stroke="#222" stroke-width="0.12">K562</text>
<rect x="263.60" y="210.80" width="48.2" height="19.3" rx="1.5" fill="#fff" fill-opacity="0.85" stroke="#e0e0e0" stroke-width="0.8"/>
<line x1="265.70" y1="215.60" x2="277.40" y2="215.60" stroke="#525252" stroke-width="1.05"/>
<line x1="265.70" y1="224.10" x2="277.40" y2="224.10" stroke="#b6b6b6" stroke-width="1.0"/>
<text x="282.10" y="217.90" font-size="6.4" text-anchor="start" fill="#222" textLength="27.0" lengthAdjust="spacingAndGlyphs" font-family='"Liberation Sans", sans-serif' stroke="#222" stroke-width="0.12">GM12878</text>
<text x="282.10" y="226.40" font-size="6.4" text-anchor="start" fill="#222" textLength="14.0" lengthAdjust="spacingAndGlyphs" font-family='"Liberation Sans", sans-serif' stroke="#222" stroke-width="0.12">K562</text>
<rect x="625.20" y="45.60" width="48.2" height="19.3" rx="1.5" fill="#fff" fill-opacity="0.85" stroke="#e0e0e0" stroke-width="0.8"/>
<line x1="627.30" y1="50.40" x2="639.00" y2="50.40" stroke="#525252" stroke-width="1.05"/>
<line x1="627.30" y1="58.90" x2="639.00" y2="58.90" stroke="#b6b6b6" stroke-width="1.0"/>
<text x="643.70" y="52.70" font-size="6.4" text-anchor="start" fill="#222" textLength="27.0" lengthAdjust="spacingAndGlyphs" font-family='"Liberation Sans", sans-serif' stroke="#222" stroke-width="0.12">GM12878</text>
<text x="643.70" y="61.20" font-size="6.4" text-anchor="start" fill="#222" textLength="14.0" lengthAdjust="spacingAndGlyphs" font-family='"Liberation Sans", sans-serif' stroke="#222" stroke-width="0.12">K562</text>
<rect x="625.20" y="112.80" width="48.2" height="19.3" rx="1.5" fill="#fff" fill-opacity="0.85" stroke="#e0e0e0" stroke-width="0.8"/>
<line x1="627.30" y1="117.60" x2="639.00" y2="117.60" stroke="#525252" stroke-width="1.05"/>
<line x1="627.30" y1="126.10" x2="639.00" y2="126.10" stroke="#b6b6b6" stroke-width="1.0"/>
<text x="643.70" y="119.90" font-size="6.4" text-anchor="start" fill="#222" textLength="27.0" lengthAdjust="spacingAndGlyphs" font-family='"Liberation Sans", sans-serif' stroke="#222" stroke-width="0.12">GM12878</text>
<text x="643.70" y="128.40" font-size="6.4" text-anchor="start" fill="#222" textLength="14.0" lengthAdjust="spacingAndGlyphs" font-family='"Liberation Sans", sans-serif' stroke="#222" stroke-width="0.12">K562</text>
<rect x="487.60" y="210.80" width="48.2" height="19.3" rx="1.5" fill="#fff" fill-opacity="0.85" stroke="#e0e0e0" stroke-width="0.8"/>
<line x1="489.70" y1="215.60" x2="501.40" y2="215.60" stroke="#525252" stroke-width="1.05"/>
<line x1="489.70" y1="224.10" x2="501.40" y2="224.10" stroke="#b6b6b6" stroke-width="1.0"/>
<text x="506.10" y="217.90" font-size="6.4" text-anchor="start" fill="#222" textLength="27.0" lengthAdjust="spacingAndGlyphs" font-family='"Liberation Sans", sans-serif' stroke="#222" stroke-width="0.12">GM12878</text>
<text x="506.10" y="226.40" font-size="6.4" text-anchor="start" fill="#222" textLength="14.0" lengthAdjust="spacingAndGlyphs" font-family='"Liberation Sans", sans-serif' stroke="#222" stroke-width="0.12">K562</text>
<text x="115.40" y="31.00" font-size="12.3" text-anchor="start" fill="#1a1a1a" textLength="40.6" lengthAdjust="spacingAndGlyphs" font-family='"Liberation Sans", sans-serif' stroke="#1a1a1a" stroke-width="0.2">D-miRT</text>
<text x="329.60" y="31.00" font-size="12.3" text-anchor="start" fill="#1a1a1a" textLength="54.8" lengthAdjust="spacingAndGlyphs" font-family='"Liberation Sans", sans-serif' stroke="#1a1a1a" stroke-width="0.2">Hua et al.</text>
<text x="551.30" y="31.00" font-size="12.3" text-anchor="start" fill="#1a1a1a" textLength="63.0" lengthAdjust="spacingAndGlyphs" font-family='"Liberation Sans", sans-serif' stroke="#1a1a1a" stroke-width="0.2">PROmiRNA</text>
<text x="16.90" y="70.40" font-size="12.4" text-anchor="middle" fill="#111" textLength="50.0" lengthAdjust="spacingAndGlyphs" transform="rotate(-90 16.90 70.40)" font-family='"Liberation Sans", sans-serif' >GRO-cap</text>
<text x="16.90" y="135.10" font-size="12.4" text-anchor="middle" fill="#111" textLength="38.7" lengthAdjust="spacingAndGlyphs" transform="rotate(-90 16.90 135.10)" font-family='"Liberation Sans", sans-serif' >hCAGE</text>
<text x="16.90" y="205.90" font-size="12.4" text-anchor="middle" fill="#111" textLength="54.6" lengthAdjust="spacingAndGlyphs" transform="rotate(-90 16.90 205.90)" font-family='"Liberation Sans", sans-serif' >H3K4me3</text>
<text x="14.00" y="23.40" font-size="18.0" text-anchor="start" fill="#000" font-weight="bold" font-family='"Liberation Serif", serif' >A</text>
<text x="11.90" y="268.90" font-size="18.0" text-anchor="start" fill="#000" font-weight="bold" font-family='"Liberation Serif", serif' >B</text>
<rect x="71.30" y="282.50" width="170.00" height="36.70" fill="none" stroke="#8c8c8c" stroke-width="1"/>
<path d="M143.57,319.20L143.57,316.60L146.64,316.60L146.64,313.70L149.71,313.70L149.71,313.70L152.78,313.70L152.78,305.40L155.85,305.40L155.85,283.90L158.92,283.90L158.92,292.30L161.99,292.30L161.99,297.50L165.06,297.50L165.06,314.00L168.13,314.00L168.13,319.20Z" fill="#000"/>
<path d="M69.50,283.50H71.30M69.50,319.20H71.30" stroke="#8c8c8c" stroke-width="0.8" fill="none"/>
<text x="67.30" y="287.00" font-size="8.6" text-anchor="end" fill="#1a1a1a" font-family='"Liberation Sans", sans-serif' stroke="#1a1a1a" stroke-width="0.25">1</text>
<text x="67.50" y="322.50" font-size="8.6" text-anchor="end" fill="#1a1a1a" font-family='"Liberation Sans", sans-serif' stroke="#1a1a1a" stroke-width="0.25">0</text>
<rect x="71.30" y="327.00" width="170.00" height="37.00" fill="none" stroke="#8c8c8c" stroke-width="1"/>
<path d="M91.38,364.00L91.38,359.50L94.45,359.50L94.45,364.00Z M103.66,364.00L103.66,355.10L106.73,355.10L106.73,355.10L109.80,355.10L109.80,364.00Z M119.01,364.00L119.01,355.10L122.08,355.10L122.08,364.00Z M146.64,364.00L146.64,359.50L149.71,359.50L149.71,364.00Z M152.78,364.00L152.78,350.90L155.85,350.90L155.85,337.30L158.92,337.30L158.92,328.60L161.99,328.60L161.99,337.30L165.06,337.30L165.06,342.00L168.13,342.00L168.13,359.70L171.20,359.70L171.20,355.10L174.27,355.10L174.27,364.00Z M177.34,364.00L177.34,359.70L180.41,359.70L180.41,355.10L183.48,355.10L183.48,355.10L186.55,355.10L186.55,364.00Z M198.83,364.00L198.83,359.70L201.90,359.70L201.90,364.00Z M211.11,364.00L211.11,359.70L214.18,359.70L214.18,364.00Z M229.53,364.00L229.53,359.70L232.60,359.70L232.60,364.00Z" fill="#000"/>
<path d="M69.50,328.00H71.30M69.50,364.00H71.30" stroke="#8c8c8c" stroke-width="0.8" fill="none"/>
<text x="67.30" y="331.50" font-size="8.6" text-anchor="end" fill="#1a1a1a" font-family='"Liberation Sans", sans-serif' stroke="#1a1a1a" stroke-width="0.25">1</text>
<text x="67.50" y="367.30" font-size="8.6" text-anchor="end" fill="#1a1a1a" font-family='"Liberation Sans", sans-serif' stroke="#1a1a1a" stroke-width="0.25">0</text>
<rect x="71.30" y="371.60" width="170.00" height="36.80" fill="none" stroke="#8c8c8c" stroke-width="1"/>
<path d="M82.17,408.40L82.17,407.00L85.24,407.00L85.24,397.60L88.31,397.60L88.31,391.80L91.38,391.80L91.38,384.20L94.45,384.20L94.45,390.30L97.52,390.30L97.52,395.80L100.59,395.80L100.59,390.30L103.66,390.30L103.66,388.30L106.73,388.30L106.73,384.20L109.80,384.20L109.80,382.40L112.87,382.40L112.87,378.90L115.94,378.90L115.94,378.90L119.01,378.90L119.01,386.40L122.08,386.40L122.08,391.60L125.15,391.60L125.15,399.10L128.22,399.10L128.22,402.90L131.29,402.90L131.29,405.20L134.36,405.20L134.36,407.00L137.43,407.00L137.43,408.40Z M140.50,408.40L140.50,406.80L143.57,406.80L143.57,406.80L146.64,406.80L146.64,406.80L149.71,406.80L149.71,406.80L152.78,406.80L152.78,406.80L155.85,406.80L155.85,406.80L158.92,406.80L158.92,408.40Z M161.99,408.40L161.99,401.10L165.06,401.10L165.06,391.80L168.13,391.80L168.13,388.30L171.20,388.30L171.20,390.30L174.27,390.30L174.27,395.80L177.34,395.80L177.34,399.10L180.41,399.10L180.41,397.30L183.48,397.30L183.48,389.90L186.55,389.90L186.55,382.40L189.62,382.40L189.62,384.20L192.69,384.20L192.69,380.30L195.76,380.30L195.76,386.00L198.83,386.00L198.83,378.90L201.90,378.90L201.90,378.90L204.97,378.90L204.97,373.30L208.04,373.30L208.04,384.20L211.11,384.20L211.11,388.10L214.18,388.10L214.18,399.10L217.25,399.10L217.25,393.80L220.32,393.80L220.32,395.60L223.39,395.60L223.39,388.10L226.46,388.10L226.46,386.20L229.53,386.20L229.53,389.90L232.60,389.90L232.60,408.40Z" fill="#000"/>
<path d="M69.50,372.60H71.30M69.50,408.40H71.30" stroke="#8c8c8c" stroke-width="0.8" fill="none"/>
<text x="67.30" y="376.10" font-size="8.6" text-anchor="end" fill="#1a1a1a" font-family='"Liberation Sans", sans-serif' stroke="#1a1a1a" stroke-width="0.25">1</text>
<text x="67.50" y="411.70" font-size="8.6" text-anchor="end" fill="#1a1a1a" font-family='"Liberation Sans", sans-serif' stroke="#1a1a1a" stroke-width="0.25">0</text>
<text x="67.20" y="418.10" font-size="8.2" text-anchor="start" fill="#222" textLength="16.2" lengthAdjust="spacingAndGlyphs" font-family='"Liberation Sans", sans-serif' >-500</text>
<text x="149.60" y="418.10" font-size="8.2" text-anchor="middle" fill="#222" textLength="12.9" lengthAdjust="spacingAndGlyphs" font-family='"Liberation Sans", sans-serif' >TSS</text>
<text x="223.80" y="418.10" font-size="8.2" text-anchor="start" fill="#222" textLength="13.3" lengthAdjust="spacingAndGlyphs" font-family='"Liberation Sans", sans-serif' >500</text>
<rect x="269.30" y="282.50" width="169.80" height="36.70" fill="none" stroke="#8c8c8c" stroke-width="1"/>
<path d="M283.24,319.20L283.24,316.10L286.31,316.10L286.31,313.10L289.38,313.10L289.38,296.00L292.45,296.00L292.45,284.40L295.52,284.40L295.52,288.10L298.59,288.10L298.59,292.90L301.66,292.90L301.66,311.30L304.73,311.30L304.73,319.20Z M359.99,319.20L359.99,317.30L363.06,317.30L363.06,317.30L366.13,317.30L366.13,319.20Z" fill="#000"/>
<path d="M267.50,283.50H269.30M267.50,319.20H269.30" stroke="#8c8c8c" stroke-width="0.8" fill="none"/>
<text x="265.30" y="287.00" font-size="8.6" text-anchor="end" fill="#1a1a1a" font-family='"Liberation Sans", sans-serif' stroke="#1a1a1a" stroke-width="0.25">1</text>
<text x="265.50" y="322.50" font-size="8.6" text-anchor="end" fill="#1a1a1a" font-family='"Liberation Sans", sans-serif' stroke="#1a1a1a" stroke-width="0.25">0</text>
<rect x="269.30" y="327.00" width="169.80" height="37.00" fill="none" stroke="#8c8c8c" stroke-width="1"/>
<path d="M283.24,364.00L283.24,360.50L286.31,360.50L286.31,357.00L289.38,357.00L289.38,333.20L292.45,333.20L292.45,329.20L295.52,329.20L295.52,329.20L298.59,329.20L298.59,333.20L301.66,333.20L301.66,344.90L304.73,344.90L304.73,341.10L307.80,341.10L307.80,333.20L310.87,333.20L310.87,357.00L313.94,357.00L313.94,364.00Z M317.01,364.00L317.01,360.50L320.08,360.50L320.08,352.60L323.15,352.60L323.15,360.50L326.22,360.50L326.22,364.00Z M399.90,364.00L399.90,360.10L402.97,360.10L402.97,364.00Z" fill="#000"/>
<path d="M267.50,328.00H269.30M267.50,364.00H269.30" stroke="#8c8c8c" stroke-width="0.8" fill="none"/>
<text x="265.30" y="331.50" font-size="8.6" text-anchor="end" fill="#1a1a1a" font-family='"Liberation Sans", sans-serif' stroke="#1a1a1a" stroke-width="0.25">1</text>
<text x="265.50" y="367.30" font-size="8.6" text-anchor="end" fill="#1a1a1a" font-family='"Liberation Sans", sans-serif' stroke="#1a1a1a" stroke-width="0.25">0</text>
<rect x="269.30" y="371.60" width="169.80" height="36.80" fill="none" stroke="#8c8c8c" stroke-width="1"/>
<path d="M280.17,408.40L280.17,407.00L283.24,407.00L283.24,407.00L286.31,407.00L286.31,407.00L289.38,407.00L289.38,408.10L292.45,408.10L292.45,408.10L295.52,408.10L295.52,400.20L298.59,400.20L298.59,390.30L301.66,390.30L301.66,388.30L304.73,388.30L304.73,393.80L307.80,393.80L307.80,397.80L310.87,397.80L310.87,400.00L313.94,400.00L313.94,395.30L317.01,395.30L317.01,391.20L320.08,391.20L320.08,386.80L323.15,386.80L323.15,381.00L326.22,381.00L326.22,386.80L329.29,386.80L329.29,387.70L332.36,387.70L332.36,384.20L335.43,384.20L335.43,376.30L338.50,376.30L338.50,374.10L341.57,374.10L341.57,379.40L344.64,379.40L344.64,376.30L347.71,376.30L347.71,375.20L350.78,375.20L350.78,379.80L353.85,379.80L353.85,389.00L356.92,389.00L356.92,392.50L359.99,392.50L359.99,384.50L363.06,384.50L363.06,381.00L366.13,381.00L366.13,386.80L369.20,386.80L369.20,397.30L372.27,397.30L372.27,398.50L375.34,398.50L375.34,397.30L378.41,397.30L378.41,395.30L381.48,395.30L381.48,396.00L384.55,396.00L384.55,390.30L387.62,390.30L387.62,393.00L390.69,393.00L390.69,393.00L393.76,393.00L393.76,396.00L396.83,396.00L396.83,393.00L399.90,393.00L399.90,391.20L402.97,391.20L402.97,395.10L406.04,395.10L406.04,398.50L409.11,398.50L409.11,397.80L412.18,397.80L412.18,397.80L415.25,397.80L415.25,400.80L418.32,400.80L418.32,398.20L421.39,398.20L421.39,396.00L424.46,396.00L424.46,393.80L427.53,393.80L427.53,397.60L430.60,397.60L430.60,408.40Z" fill="#000"/>
<path d="M267.50,372.60H269.30M267.50,408.40H269.30" stroke="#8c8c8c" stroke-width="0.8" fill="none"/>
<text x="265.30" y="376.10" font-size="8.6" text-anchor="end" fill="#1a1a1a" font-family='"Liberation Sans", sans-serif' stroke="#1a1a1a" stroke-width="0.25">1</text>
<text x="265.50" y="411.70" font-size="8.6" text-anchor="end" fill="#1a1a1a" font-family='"Liberation Sans", sans-serif' stroke="#1a1a1a" stroke-width="0.25">0</text>
<text x="265.70" y="418.10" font-size="8.2" text-anchor="start" fill="#222" textLength="16.2" lengthAdjust="spacingAndGlyphs" font-family='"Liberation Sans", sans-serif' >-500</text>
<text x="347.50" y="418.10" font-size="8.2" text-anchor="middle" fill="#222" textLength="12.9" lengthAdjust="spacingAndGlyphs" font-family='"Liberation Sans", sans-serif' >TSS</text>
<text x="422.20" y="418.10" font-size="8.2" text-anchor="start" fill="#222" textLength="13.3" lengthAdjust="spacingAndGlyphs" font-family='"Liberation Sans", sans-serif' >500</text>
<rect x="469.40" y="282.50" width="170.10" height="36.70" fill="none" stroke="#8c8c8c" stroke-width="1"/>
<path d="M538.60,319.20L538.60,317.50L541.67,317.50L541.67,314.20L544.74,314.20L544.74,301.70L547.81,301.70L547.81,283.90L550.88,283.90L550.88,285.70L553.95,285.70L553.95,288.90L557.02,288.90L557.02,305.20L560.09,305.20L560.09,319.20Z M615.35,319.20L615.35,317.30L618.42,317.30L618.42,317.30L621.49,317.30L621.49,319.20Z" fill="#000"/>
<path d="M467.60,283.50H469.40M467.60,319.20H469.40" stroke="#8c8c8c" stroke-width="0.8" fill="none"/>
<text x="465.40" y="287.00" font-size="8.6" text-anchor="end" fill="#1a1a1a" font-family='"Liberation Sans", sans-serif' stroke="#1a1a1a" stroke-width="0.25">1</text>
<text x="465.60" y="322.50" font-size="8.6" text-anchor="end" fill="#1a1a1a" font-family='"Liberation Sans", sans-serif' stroke="#1a1a1a" stroke-width="0.25">0</text>
<rect x="469.40" y="327.00" width="170.10" height="37.00" fill="none" stroke="#8c8c8c" stroke-width="1"/>
<path d="M483.34,364.00L483.34,357.00L486.41,357.00L486.41,360.10L489.48,360.10L489.48,364.00Z M492.55,364.00L492.55,360.10L495.62,360.10L495.62,364.00Z M498.69,364.00L498.69,357.00L501.76,357.00L501.76,357.00L504.83,357.00L504.83,364.00Z M541.67,364.00L541.67,360.40L544.74,360.40L544.74,343.00L547.81,343.00L547.81,335.60L550.88,335.60L550.88,328.60L553.95,328.60L553.95,332.30L557.02,332.30L557.02,343.00L560.09,343.00L560.09,357.00L563.16,357.00L563.16,328.60L566.23,328.60L566.23,353.30L569.30,353.30L569.30,364.00Z M575.44,364.00L575.44,357.00L578.51,357.00L578.51,360.10L581.58,360.10L581.58,364.00Z" fill="#000"/>
<path d="M467.60,328.00H469.40M467.60,364.00H469.40" stroke="#8c8c8c" stroke-width="0.8" fill="none"/>
<text x="465.40" y="331.50" font-size="8.6" text-anchor="end" fill="#1a1a1a" font-family='"Liberation Sans", sans-serif' stroke="#1a1a1a" stroke-width="0.25">1</text>
<text x="465.60" y="367.30" font-size="8.6" text-anchor="end" fill="#1a1a1a" font-family='"Liberation Sans", sans-serif' stroke="#1a1a1a" stroke-width="0.25">0</text>
<rect x="469.40" y="371.60" width="170.10" height="36.80" fill="none" stroke="#8c8c8c" stroke-width="1"/>
<path d="M477.20,408.40L477.20,402.20L480.27,402.20L480.27,394.10L483.34,394.10L483.34,388.30L486.41,388.30L486.41,393.20L489.48,393.20L489.48,397.80L492.55,397.80L492.55,391.50L495.62,391.50L495.62,390.60L498.69,390.60L498.69,391.50L501.76,391.50L501.76,394.10L504.83,394.10L504.83,394.10L507.90,394.10L507.90,396.50L510.97,396.50L510.97,397.80L514.04,397.80L514.04,397.80L517.11,397.80L517.11,396.50L520.18,396.50L520.18,401.30L523.25,401.30L523.25,406.30L526.32,406.30L526.32,408.40Z M535.53,408.40L535.53,407.60L538.60,407.60L538.60,406.10L541.67,406.10L541.67,405.00L544.74,405.00L544.74,407.80L547.81,407.80L547.81,406.10L550.88,406.10L550.88,401.10L553.95,401.10L553.95,390.30L557.02,390.30L557.02,386.80L560.09,386.80L560.09,391.50L563.16,391.50L563.16,396.50L566.23,396.50L566.23,397.60L569.30,397.60L569.30,395.10L572.37,395.10L572.37,393.00L575.44,393.00L575.44,388.30L578.51,388.30L578.51,380.40L581.58,380.40L581.58,383.00L584.65,383.00L584.65,386.40L587.72,386.40L587.72,386.40L590.79,386.40L590.79,374.30L593.86,374.30L593.86,373.30L596.93,373.30L596.93,375.70L600.00,375.70L600.00,373.30L603.07,373.30L603.07,374.30L606.14,374.30L606.14,376.80L609.21,376.80L609.21,386.60L612.28,386.60L612.28,392.70L615.35,392.70L615.35,383.10L618.42,383.10L618.42,380.40L621.49,380.40L621.49,380.40L624.56,380.40L624.56,393.80L627.63,393.80L627.63,397.60L630.70,397.60L630.70,408.40Z" fill="#000"/>
<path d="M467.60,372.60H469.40M467.60,408.40H469.40" stroke="#8c8c8c" stroke-width="0.8" fill="none"/>
<text x="465.40" y="376.10" font-size="8.6" text-anchor="end" fill="#1a1a1a" font-family='"Liberation Sans", sans-serif' stroke="#1a1a1a" stroke-width="0.25">1</text>
<text x="465.60" y="411.70" font-size="8.6" text-anchor="end" fill="#1a1a1a" font-family='"Liberation Sans", sans-serif' stroke="#1a1a1a" stroke-width="0.25">0</text>
<text x="467.80" y="418.10" font-size="8.2" text-anchor="start" fill="#222" textLength="16.2" lengthAdjust="spacingAndGlyphs" font-family='"Liberation Sans", sans-serif' >-500</text>
<text x="550.80" y="418.10" font-size="8.2" text-anchor="middle" fill="#222" textLength="12.9" lengthAdjust="spacingAndGlyphs" font-family='"Liberation Sans", sans-serif' >TSS</text>
<text x="625.00" y="418.10" font-size="8.2" text-anchor="start" fill="#222" textLength="13.3" lengthAdjust="spacingAndGlyphs" font-family='"Liberation Sans", sans-serif' >500</text>
<rect x="71.30" y="439.50" width="170.00" height="36.60" fill="none" stroke="#8c8c8c" stroke-width="1"/>
<path d="M103.66,476.10L103.66,474.10L106.73,474.10L106.73,471.90L109.80,471.90L109.80,476.10Z M155.85,476.10L155.85,467.10L158.92,467.10L158.92,441.30L161.99,441.30L161.99,447.40L165.06,447.40L165.06,454.40L168.13,454.40L168.13,470.00L171.20,470.00L171.20,476.10Z" fill="#000"/>
<path d="M69.50,440.50H71.30M69.50,476.10H71.30" stroke="#8c8c8c" stroke-width="0.8" fill="none"/>
<text x="67.30" y="444.00" font-size="8.6" text-anchor="end" fill="#1a1a1a" font-family='"Liberation Sans", sans-serif' stroke="#1a1a1a" stroke-width="0.25">1</text>
<text x="67.50" y="479.40" font-size="8.6" text-anchor="end" fill="#1a1a1a" font-family='"Liberation Sans", sans-serif' stroke="#1a1a1a" stroke-width="0.25">0</text>
<rect x="71.30" y="483.90" width="170.00" height="37.20" fill="none" stroke="#8c8c8c" stroke-width="1"/>
<path d="M79.10,521.10L79.10,519.00L82.17,519.00L82.17,521.10Z M106.73,521.10L106.73,514.30L109.80,514.30L109.80,516.80L112.87,516.80L112.87,521.10Z M115.94,521.10L115.94,519.00L119.01,519.00L119.01,519.00L122.08,519.00L122.08,521.10Z M146.64,521.10L146.64,519.20L149.71,519.20L149.71,521.10Z M152.78,521.10L152.78,517.00L155.85,517.00L155.85,508.20L158.92,508.20L158.92,488.10L161.99,488.10L161.99,485.70L165.06,485.70L165.06,499.10L168.13,499.10L168.13,508.20L171.20,508.20L171.20,517.00L174.27,517.00L174.27,510.20L177.34,510.20L177.34,517.00L180.41,517.00L180.41,521.10Z M211.11,521.10L211.11,518.80L214.18,518.80L214.18,521.10Z" fill="#000"/>
<path d="M69.50,484.90H71.30M69.50,521.10H71.30" stroke="#8c8c8c" stroke-width="0.8" fill="none"/>
<text x="67.30" y="488.40" font-size="8.6" text-anchor="end" fill="#1a1a1a" font-family='"Liberation Sans", sans-serif' stroke="#1a1a1a" stroke-width="0.25">1</text>
<text x="67.50" y="524.40" font-size="8.6" text-anchor="end" fill="#1a1a1a" font-family='"Liberation Sans", sans-serif' stroke="#1a1a1a" stroke-width="0.25">0</text>
<rect x="71.30" y="528.40" width="170.00" height="36.90" fill="none" stroke="#8c8c8c" stroke-width="1"/>
<path d="M79.10,565.30L79.10,560.10L82.17,560.10L82.17,559.20L85.24,559.20L85.24,560.10L88.31,560.10L88.31,562.40L91.38,562.40L91.38,561.20L94.45,561.20L94.45,563.00L97.52,563.00L97.52,562.10L100.59,562.10L100.59,560.10L103.66,560.10L103.66,554.20L106.73,554.20L106.73,552.00L109.80,552.00L109.80,548.70L112.87,548.70L112.87,549.40L115.94,549.40L115.94,544.80L119.01,544.80L119.01,545.90L122.08,545.90L122.08,539.10L125.15,539.10L125.15,539.20L128.22,539.20L128.22,544.80L131.29,544.80L131.29,554.60L134.36,554.60L134.36,559.90L137.43,559.90L137.43,561.20L140.50,561.20L140.50,563.80L143.57,563.80L143.57,563.00L146.64,563.00L146.64,563.00L149.71,563.00L149.71,562.10L152.78,562.10L152.78,559.90L155.85,559.90L155.85,557.30L158.92,557.30L158.92,554.20L161.99,554.20L161.99,545.90L165.06,545.90L165.06,534.10L168.13,534.10L168.13,530.30L171.20,530.30L171.20,532.10L174.27,532.10L174.27,542.00L177.34,542.00L177.34,536.10L180.41,536.10L180.41,536.70L183.48,536.70L183.48,538.90L186.55,538.90L186.55,544.60L189.62,544.60L189.62,540.20L192.69,540.20L192.69,539.10L195.76,539.10L195.76,533.20L198.83,533.20L198.83,540.20L201.90,540.20L201.90,536.10L204.97,536.10L204.97,545.70L208.04,545.70L208.04,544.00L211.11,544.00L211.11,547.50L214.18,547.50L214.18,545.90L217.25,545.90L217.25,545.90L220.32,545.90L220.32,543.10L223.39,543.10L223.39,550.30L226.46,550.30L226.46,549.40L229.53,549.40L229.53,553.10L232.60,553.10L232.60,565.30Z" fill="#000"/>
<path d="M69.50,529.40H71.30M69.50,565.30H71.30" stroke="#8c8c8c" stroke-width="0.8" fill="none"/>
<text x="67.30" y="532.90" font-size="8.6" text-anchor="end" fill="#1a1a1a" font-family='"Liberation Sans", sans-serif' stroke="#1a1a1a" stroke-width="0.25">1</text>
<text x="67.50" y="568.60" font-size="8.6" text-anchor="end" fill="#1a1a1a" font-family='"Liberation Sans", sans-serif' stroke="#1a1a1a" stroke-width="0.25">0</text>
<text x="67.20" y="576.30" font-size="8.2" text-anchor="start" fill="#222" textLength="16.2" lengthAdjust="spacingAndGlyphs" font-family='"Liberation Sans", sans-serif' >-500</text>
<text x="149.60" y="576.30" font-size="8.2" text-anchor="middle" fill="#222" textLength="12.9" lengthAdjust="spacingAndGlyphs" font-family='"Liberation Sans", sans-serif' >TSS</text>
<text x="223.80" y="576.30" font-size="8.2" text-anchor="start" fill="#222" textLength="13.3" lengthAdjust="spacingAndGlyphs" font-family='"Liberation Sans", sans-serif' >500</text>
<rect x="269.30" y="439.50" width="169.80" height="36.60" fill="none" stroke="#8c8c8c" stroke-width="1"/>
<path d="M307.80,476.10L307.80,470.00L310.87,470.00L310.87,450.70L313.94,450.70L313.94,450.70L317.01,450.70L317.01,441.30L320.08,441.30L320.08,457.00L323.15,457.00L323.15,476.10Z" fill="#000"/>
<path d="M267.50,440.50H269.30M267.50,476.10H269.30" stroke="#8c8c8c" stroke-width="0.8" fill="none"/>
<text x="265.30" y="444.00" font-size="8.6" text-anchor="end" fill="#1a1a1a" font-family='"Liberation Sans", sans-serif' stroke="#1a1a1a" stroke-width="0.25">1</text>
<text x="265.50" y="479.40" font-size="8.6" text-anchor="end" fill="#1a1a1a" font-family='"Liberation Sans", sans-serif' stroke="#1a1a1a" stroke-width="0.25">0</text>
<rect x="269.30" y="483.90" width="169.80" height="37.20" fill="none" stroke="#8c8c8c" stroke-width="1"/>
<path d="M292.45,521.10L292.45,518.40L295.52,518.40L295.52,521.10Z M310.87,521.10L310.87,518.40L313.94,518.40L313.94,521.10Z M326.22,521.10L326.22,518.40L329.29,518.40L329.29,521.10Z M338.50,521.10L338.50,516.10L341.57,516.10L341.57,521.10Z M347.71,521.10L347.71,518.40L350.78,518.40L350.78,518.40L353.85,518.40L353.85,521.10Z M363.06,521.10L363.06,516.10L366.13,516.10L366.13,518.40L369.20,518.40L369.20,516.10L372.27,516.10L372.27,501.00L375.34,501.00L375.34,508.20L378.41,508.20L378.41,490.70L381.48,490.70L381.48,488.30L384.55,488.30L384.55,486.00L387.62,486.00L387.62,486.00L390.69,486.00L390.69,491.00L393.76,491.00L393.76,493.10L396.83,493.10L396.83,513.70L399.90,513.70L399.90,518.40L402.97,518.40L402.97,521.10Z M406.04,521.10L406.04,518.40L409.11,518.40L409.11,521.10Z" fill="#000"/>
<path d="M267.50,484.90H269.30M267.50,521.10H269.30" stroke="#8c8c8c" stroke-width="0.8" fill="none"/>
<text x="265.30" y="488.40" font-size="8.6" text-anchor="end" fill="#1a1a1a" font-family='"Liberation Sans", sans-serif' stroke="#1a1a1a" stroke-width="0.25">1</text>
<text x="265.50" y="524.40" font-size="8.6" text-anchor="end" fill="#1a1a1a" font-family='"Liberation Sans", sans-serif' stroke="#1a1a1a" stroke-width="0.25">0</text>
<rect x="269.30" y="528.40" width="169.80" height="36.90" fill="none" stroke="#8c8c8c" stroke-width="1"/>
<path d="M277.10,565.30L277.10,564.50L280.17,564.50L280.17,565.30Z M289.38,565.30L289.38,564.50L292.45,564.50L292.45,564.50L295.52,564.50L295.52,563.60L298.59,563.60L298.59,561.70L301.66,561.70L301.66,560.30L304.73,560.30L304.73,559.00L307.80,559.00L307.80,561.80L310.87,561.80L310.87,558.00L313.94,558.00L313.94,554.20L317.01,554.20L317.01,544.30L320.08,544.30L320.08,536.40L323.15,536.40L323.15,533.50L326.22,533.50L326.22,530.60L329.29,530.60L329.29,532.30L332.36,532.30L332.36,535.40L335.43,535.40L335.43,548.50L338.50,548.50L338.50,550.10L341.57,550.10L341.57,546.60L344.64,546.60L344.64,538.00L347.71,538.00L347.71,538.20L350.78,538.20L350.78,538.90L353.85,538.90L353.85,534.70L356.92,534.70L356.92,530.60L359.99,530.60L359.99,535.40L363.06,535.40L363.06,534.70L366.13,534.70L366.13,538.90L369.20,538.90L369.20,533.50L372.27,533.50L372.27,532.60L375.34,532.60L375.34,533.50L378.41,533.50L378.41,536.70L381.48,536.70L381.48,539.90L384.55,539.90L384.55,542.00L387.62,542.00L387.62,539.10L390.69,539.10L390.69,539.90L393.76,539.90L393.76,544.00L396.83,544.00L396.83,543.10L399.90,543.10L399.90,544.30L402.97,544.30L402.97,544.30L406.04,544.30L406.04,550.70L409.11,550.70L409.11,549.80L412.18,549.80L412.18,548.50L415.25,548.50L415.25,549.60L418.32,549.60L418.32,554.20L421.39,554.20L421.39,558.20L424.46,558.20L424.46,561.70L427.53,561.70L427.53,559.00L430.60,559.00L430.60,565.30Z" fill="#000"/>
<path d="M267.50,529.40H269.30M267.50,565.30H269.30" stroke="#8c8c8c" stroke-width="0.8" fill="none"/>
<text x="265.30" y="532.90" font-size="8.6" text-anchor="end" fill="#1a1a1a" font-family='"Liberation Sans", sans-serif' stroke="#1a1a1a" stroke-width="0.25">1</text>
<text x="265.50" y="568.60" font-size="8.6" text-anchor="end" fill="#1a1a1a" font-family='"Liberation Sans", sans-serif' stroke="#1a1a1a" stroke-width="0.25">0</text>
<text x="265.70" y="576.30" font-size="8.2" text-anchor="start" fill="#222" textLength="16.2" lengthAdjust="spacingAndGlyphs" font-family='"Liberation Sans", sans-serif' >-500</text>
<text x="347.50" y="576.30" font-size="8.2" text-anchor="middle" fill="#222" textLength="12.9" lengthAdjust="spacingAndGlyphs" font-family='"Liberation Sans", sans-serif' >TSS</text>
<text x="422.20" y="576.30" font-size="8.2" text-anchor="start" fill="#222" textLength="13.3" lengthAdjust="spacingAndGlyphs" font-family='"Liberation Sans", sans-serif' >500</text>
<rect x="469.40" y="439.50" width="170.10" height="36.60" fill="none" stroke="#8c8c8c" stroke-width="1"/>
<path d="M544.74,476.10L544.74,471.50L547.81,471.50L547.81,466.50L550.88,466.50L550.88,461.40L553.95,461.40L553.95,441.30L557.02,441.30L557.02,454.00L560.09,454.00L560.09,474.10L563.16,474.10L563.16,476.10Z" fill="#000"/>
<path d="M467.60,440.50H469.40M467.60,476.10H469.40" stroke="#8c8c8c" stroke-width="0.8" fill="none"/>
<text x="465.40" y="444.00" font-size="8.6" text-anchor="end" fill="#1a1a1a" font-family='"Liberation Sans", sans-serif' stroke="#1a1a1a" stroke-width="0.25">1</text>
<text x="465.60" y="479.40" font-size="8.6" text-anchor="end" fill="#1a1a1a" font-family='"Liberation Sans", sans-serif' stroke="#1a1a1a" stroke-width="0.25">0</text>
<rect x="469.40" y="483.90" width="170.10" height="37.20" fill="none" stroke="#8c8c8c" stroke-width="1"/>
<path d="M489.48,521.10L489.48,519.20L492.55,519.20L492.55,521.10Z M498.69,521.10L498.69,517.20L501.76,517.20L501.76,521.10Z M507.90,521.10L507.90,519.20L510.97,519.20L510.97,519.20L514.04,519.20L514.04,521.10Z M523.25,521.10L523.25,517.20L526.32,517.20L526.32,521.10Z M529.39,521.10L529.39,519.20L532.46,519.20L532.46,508.50L535.53,508.50L535.53,512.80L538.60,512.80L538.60,508.50L541.67,508.50L541.67,487.90L544.74,487.90L544.74,500.30L547.81,500.30L547.81,485.70L550.88,485.70L550.88,496.20L553.95,496.20L553.95,496.20L557.02,496.20L557.02,506.30L560.09,506.30L560.09,515.00L563.16,515.00L563.16,521.10Z M569.30,521.10L569.30,519.40L572.37,519.40L572.37,521.10Z M615.35,521.10L615.35,519.20L618.42,519.20L618.42,521.10Z" fill="#000"/>
<path d="M467.60,484.90H469.40M467.60,521.10H469.40" stroke="#8c8c8c" stroke-width="0.8" fill="none"/>
<text x="465.40" y="488.40" font-size="8.6" text-anchor="end" fill="#1a1a1a" font-family='"Liberation Sans", sans-serif' stroke="#1a1a1a" stroke-width="0.25">1</text>
<text x="465.60" y="524.40" font-size="8.6" text-anchor="end" fill="#1a1a1a" font-family='"Liberation Sans", sans-serif' stroke="#1a1a1a" stroke-width="0.25">0</text>
<rect x="469.40" y="528.40" width="170.10" height="36.90" fill="none" stroke="#8c8c8c" stroke-width="1"/>
<path d="M477.20,565.30L477.20,538.00L480.27,538.00L480.27,535.60L483.34,535.60L483.34,543.10L486.41,543.10L486.41,544.30L489.48,544.30L489.48,549.80L492.55,549.80L492.55,549.80L495.62,549.80L495.62,552.90L498.69,552.90L498.69,547.60L501.76,547.60L501.76,548.70L504.83,548.70L504.83,552.00L507.90,552.00L507.90,555.10L510.97,555.10L510.97,558.20L514.04,558.20L514.04,562.50L517.11,562.50L517.11,564.70L520.18,564.70L520.18,565.30Z M529.39,565.30L529.39,564.70L532.46,564.70L532.46,563.80L535.53,563.80L535.53,563.80L538.60,563.80L538.60,560.60L541.67,560.60L541.67,559.20L544.74,559.20L544.74,560.60L547.81,560.60L547.81,558.20L550.88,558.20L550.88,559.00L553.95,559.00L553.95,549.60L557.02,549.60L557.02,542.20L560.09,542.20L560.09,533.50L563.16,533.50L563.16,533.50L566.23,533.50L566.23,532.60L569.30,532.60L569.30,534.70L572.37,534.70L572.37,543.10L575.44,543.10L575.44,549.60L578.51,549.60L578.51,548.50L581.58,548.50L581.58,541.00L584.65,541.00L584.65,539.10L587.72,539.10L587.72,539.10L590.79,539.10L590.79,534.70L593.86,534.70L593.86,532.30L596.93,532.30L596.93,530.30L600.00,530.30L600.00,536.40L603.07,536.40L603.07,537.80L606.14,537.80L606.14,536.70L609.21,536.70L609.21,535.20L612.28,535.20L612.28,531.40L615.35,531.40L615.35,534.50L618.42,534.50L618.42,535.40L621.49,535.40L621.49,540.80L624.56,540.80L624.56,542.00L627.63,542.00L627.63,543.10L630.70,543.10L630.70,565.30Z" fill="#000"/>
<path d="M467.60,529.40H469.40M467.60,565.30H469.40" stroke="#8c8c8c" stroke-width="0.8" fill="none"/>
<text x="465.40" y="532.90" font-size="8.6" text-anchor="end" fill="#1a1a1a" font-family='"Liberation Sans", sans-serif' stroke="#1a1a1a" stroke-width="0.25">1</text>
<text x="465.60" y="568.60" font-size="8.6" text-anchor="end" fill="#1a1a1a" font-family='"Liberation Sans", sans-serif' stroke="#1a1a1a" stroke-width="0.25">0</text>
<text x="467.80" y="576.30" font-size="8.2" text-anchor="start" fill="#222" textLength="16.2" lengthAdjust="spacingAndGlyphs" font-family='"Liberation Sans", sans-serif' >-500</text>
<text x="550.80" y="576.30" font-size="8.2" text-anchor="middle" fill="#222" textLength="12.9" lengthAdjust="spacingAndGlyphs" font-family='"Liberation Sans", sans-serif' >TSS</text>
<text x="625.00" y="576.30" font-size="8.2" text-anchor="start" fill="#222" textLength="13.3" lengthAdjust="spacingAndGlyphs" font-family='"Liberation Sans", sans-serif' >500</text>
<text x="128.80" y="269.00" font-size="12.0" text-anchor="start" fill="#1a1a1a" textLength="41.2" lengthAdjust="spacingAndGlyphs" font-family='"Liberation Sans", sans-serif' stroke="#1a1a1a" stroke-width="0.2">D-miRT</text>
<text x="320.00" y="268.70" font-size="12.0" text-anchor="start" fill="#1a1a1a" textLength="54.6" lengthAdjust="spacingAndGlyphs" font-family='"Liberation Sans", sans-serif' stroke="#1a1a1a" stroke-width="0.2">Hua et al.</text>
<text x="512.40" y="269.00" font-size="12.0" text-anchor="start" fill="#1a1a1a" textLength="62.4" lengthAdjust="spacingAndGlyphs" font-family='"Liberation Sans", sans-serif' stroke="#1a1a1a" stroke-width="0.2">PROmiRNA</text>
<text x="40.20" y="347.55" font-size="11.5" text-anchor="middle" fill="#222" textLength="83.8" lengthAdjust="spacingAndGlyphs" transform="rotate(-90 40.20 347.55)" font-family='"Liberation Sans", sans-serif' >hsa-miR-3155a</text>
<text x="40.20" y="503.85" font-size="11.5" text-anchor="middle" fill="#222" textLength="70.5" lengthAdjust="spacingAndGlyphs" transform="rotate(-90 40.20 503.85)" font-family='"Liberation Sans", sans-serif' >hsa-miR-580</text>
<text x="83.80" y="294.60" font-size="7.9" text-anchor="start" fill="#222" font-weight="bold" textLength="34.2" lengthAdjust="spacingAndGlyphs" font-family='"Liberation Sans", sans-serif' >GRO-cap</text>
<text x="88.30" y="338.60" font-size="8.2" text-anchor="start" fill="#222" font-weight="bold" textLength="25.3" lengthAdjust="spacingAndGlyphs" font-family='"Liberation Sans", sans-serif' >hCAGE</text>
<text x="128.00" y="380.40" font-size="7.8" text-anchor="start" fill="#222" font-weight="bold" textLength="36.8" lengthAdjust="spacingAndGlyphs" font-family='"Liberation Sans", sans-serif' >H3K4me3</text>
<rect x="1.5" y="1.15" width="681.5" height="581.55" fill="none" stroke="#000" stroke-width="1.8"/>
<line x1="1" y1="244.75" x2="683.5" y2="244.75" stroke="#000" stroke-width="2"/>
</svg>
</body></html>
